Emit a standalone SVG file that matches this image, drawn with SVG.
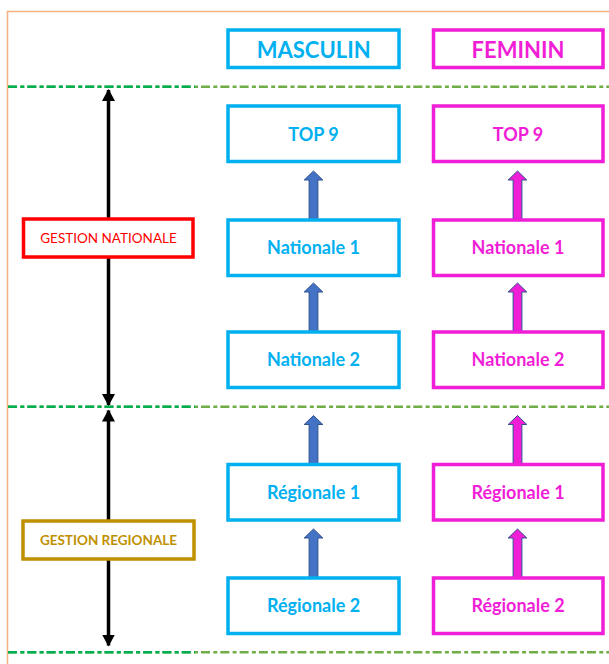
<svg xmlns="http://www.w3.org/2000/svg" width="609" height="664" viewBox="0 0 609 664">
<style>
  .bm { fill: #fff; stroke: #00B0F0; stroke-width: 3.5; }
  .bf { fill: #fff; stroke: #F01ED6; stroke-width: 3.5; }
  .tm { fill: #00B0F0; font-family: Lato, "Open Sans", sans-serif; font-weight: bold; font-size: 18px; text-anchor: middle; }
  .tf { fill: #F01ED6; font-family: Lato, "Open Sans", sans-serif; font-weight: bold; font-size: 18px; text-anchor: middle; }
  .hd { font-size: 22px; }
  .dl { fill: none; stroke-width: 2.6; stroke-dasharray: 9 3.3 4 3; }
  .dk { stroke: #00B050; }
  .lt { stroke: #70AD47; }
  .axis { stroke: #000; stroke-width: 3.5; fill: none; }
  .ba { fill: #4472C4; stroke: #2F528F; stroke-width: 1; }
  .pa { fill: #F01ED6; stroke: #2F528F; stroke-width: 1; }
</style>
<defs>
  <marker id="ah" viewBox="0 0 12 13" refX="11" refY="6.5" markerWidth="12" markerHeight="13" markerUnits="userSpaceOnUse" orient="auto">
    <path d="M0,0 L12,6.5 L0,13 z" fill="#000"/>
  </marker>
  <path id="blk" d="M-4.4,0 L-4.4,-40 L-9.3,-40 L0,-49 L9.3,-40 L4.4,-40 L4.4,0 z"/>
</defs>
<rect x="0" y="0" width="609" height="664" fill="#fff"/>
<path d="M7.5,664 L7.5,11.5 L609,11.5" fill="none" stroke="#F4B183" stroke-width="1.5"/>

<g id="separators">
  <path class="dl lt" d="M8,86.7 H609 M8,406.8 H609 M8,652.3 H609"/>
  <path class="dl dk" d="M8,86.7 H195 M8,406.8 H195 M8,652.3 H195"/>
</g>

<g id="connectors">
  <line class="axis" x1="108.5" y1="240" x2="108.5" y2="90" marker-end="url(#ah)"/>
  <line class="axis" x1="108.5" y1="240" x2="108.5" y2="405" marker-end="url(#ah)"/>
  <line class="axis" x1="108.5" y1="540" x2="108.5" y2="410.5" marker-end="url(#ah)"/>
  <line class="axis" x1="108.5" y1="540" x2="108.5" y2="645.5" marker-end="url(#ah)"/>
  <use href="#blk" class="ba" x="313.5" y="220"/>
  <use href="#blk" class="ba" x="313.5" y="332"/>
  <use href="#blk" class="ba" x="313.5" y="464.5"/>
  <use href="#blk" class="ba" x="313.5" y="578"/>
  <use href="#blk" class="pa" x="517.5" y="220"/>
  <use href="#blk" class="pa" x="517.5" y="332"/>
  <use href="#blk" class="pa" x="517.5" y="464.5"/>
  <use href="#blk" class="pa" x="517.5" y="578"/>
</g>

<g id="gestion-nationale">
  <rect x="23.5" y="219" width="169.5" height="38" fill="#fff" stroke="#FF0000" stroke-width="3.5"/>
  <text x="108.5" y="243.3" fill="#FF0000" font-family="Lato, 'Open Sans', sans-serif" font-size="13.5" text-anchor="middle">GESTION NATIONALE</text>
</g>
<g id="gestion-regionale">
  <rect x="23" y="521" width="171" height="38" fill="#fff" stroke="#BF9000" stroke-width="3.5"/>
  <text x="108.5" y="545" fill="#BF9000" font-family="Lato, 'Open Sans', sans-serif" font-weight="bold" font-size="13.5" text-anchor="middle">GESTION REGIONALE</text>
</g>

<g id="masculin">
  <rect class="bm" x="228" y="30" width="171" height="37.5"/>
  <text class="tm hd" x="313.7" y="58.3">MASCULIN</text>
</g>
<g id="feminin">
  <rect class="bf" x="433.5" y="30" width="169.5" height="37.5"/>
  <text class="tf hd" x="518" y="58.3">FEMININ</text>
</g>

<g id="m-top9">
  <rect class="bm" x="228" y="106" width="171" height="55.5"/>
  <text class="tm" x="313.5" y="140.5">TOP 9</text>
</g>
<g id="m-nationale1">
  <rect class="bm" x="228" y="220" width="171" height="55.5"/>
  <text class="tm" x="313.5" y="254">Nationale 1</text>
</g>
<g id="m-nationale2">
  <rect class="bm" x="228" y="332" width="171" height="55.5"/>
  <text class="tm" x="313.5" y="366">Nationale 2</text>
</g>
<g id="m-regionale1">
  <rect class="bm" x="228" y="464.5" width="171" height="55.5"/>
  <text class="tm" x="313.5" y="498.5">Régionale 1</text>
</g>
<g id="m-regionale2">
  <rect class="bm" x="228" y="578" width="171" height="55.5"/>
  <text class="tm" x="313.5" y="612">Régionale 2</text>
</g>

<g id="f-top9">
  <rect class="bf" x="433.5" y="106" width="169.5" height="55.5"/>
  <text class="tf" x="518" y="140.5">TOP 9</text>
</g>
<g id="f-nationale1">
  <rect class="bf" x="433.5" y="220" width="169.5" height="55.5"/>
  <text class="tf" x="518" y="254">Nationale 1</text>
</g>
<g id="f-nationale2">
  <rect class="bf" x="433.5" y="332" width="169.5" height="55.5"/>
  <text class="tf" x="518" y="366">Nationale 2</text>
</g>
<g id="f-regionale1">
  <rect class="bf" x="433.5" y="464.5" width="169.5" height="55.5"/>
  <text class="tf" x="518" y="498.5">Régionale 1</text>
</g>
<g id="f-regionale2">
  <rect class="bf" x="433.5" y="578" width="169.5" height="55.5"/>
  <text class="tf" x="518" y="612">Régionale 2</text>
</g>
</svg>
